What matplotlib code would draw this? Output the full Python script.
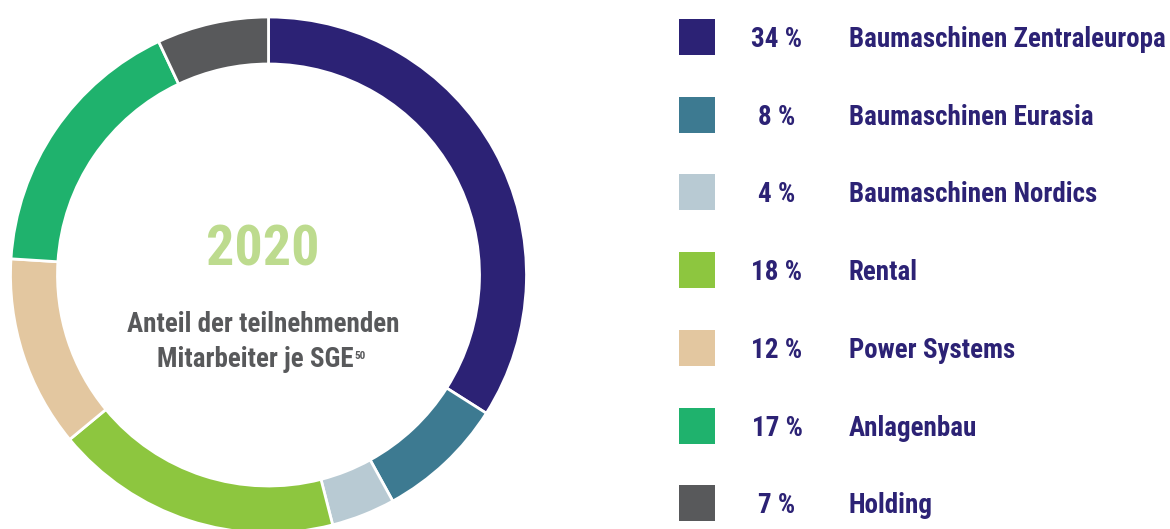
import matplotlib
matplotlib.use("Agg")
import matplotlib.pyplot as plt
from matplotlib import font_manager
from matplotlib.patches import Rectangle

# ---- data ----
categories = ["Baumaschinen Zentraleuropa", "Baumaschinen Eurasia", "Baumaschinen Nordics",
              "Rental", "Power Systems", "Anlagenbau", "Holding"]
shares = [34, 8, 4, 18, 12, 17, 7]
colors = ["#2c2275", "#3d7a91", "#b8cad3", "#8dc63f", "#e3c7a0", "#1fb26d", "#58595b"]
year_label = "2020"
center_lines = ["Anteil der teilnehmenden", "Mitarbeiter je SGE"]
footnote = "50"

# ---- font choice: a condensed bold sans ----
entries = font_manager.fontManager.ttflist
names = {f.name for f in entries}
FONT, STRETCH = "DejaVu Sans", "normal"
for cand in ["Roboto Condensed", "Archivo Narrow", "Fira Sans Condensed", "PT Sans Narrow",
             "Barlow Semi Condensed", "Asap Condensed", "IBM Plex Sans Condensed",
             "Encode Sans Condensed", "Pragati Narrow"]:
    if cand in names:
        FONT = cand
        break
else:
    for f in entries:
        if f.name == "Roboto" and str(f.stretch) in ("condensed", "semi-condensed", "75", "87"):
            FONT, STRETCH = "Roboto", "condensed"
            break
plt.rcParams["font.family"] = [FONT, "DejaVu Sans"]

W, H = 1170, 529
fig = plt.figure(figsize=(W / 100, H / 100), dpi=100)
ax = fig.add_axes([0, 0, 1, 1])

cx, cy, R, ring = 268.5, H - 275, 258, 47
ax.pie(shares, colors=colors, startangle=90, counterclock=False, radius=R, center=(cx, cy),
       wedgeprops=dict(width=ring, edgecolor="white", linewidth=2), frame=False)
ax.set_xlim(0, W)
ax.set_ylim(0, H)
ax.set_aspect("equal")
ax.axis("off")

renderer = fig.canvas.get_renderer()


def fit(t, width, lo, hi):
    """scale font size so that the text has the wanted pixel width"""
    w = t.get_window_extent(renderer).width
    fs = t.get_fontsize() * width / w
    t.set_fontsize(min(max(fs, lo), hi))
    return t


kw = dict(fontweight="bold", fontstretch=STRETCH)

# center text
fit(ax.text(263, H - 265, year_label, ha="center", va="baseline", fontsize=46,
            color="#bddb8e", **kw), 113, 30, 60)
fit(ax.text(263, H - 332, center_lines[0], ha="center", va="baseline", fontsize=17,
            color="#58595b", **kw), 272, 13, 22)
t2 = fit(ax.text(255, H - 367, center_lines[1], ha="center", va="baseline", fontsize=17,
                 color="#58595b", **kw), 196, 13, 22)
bb = t2.get_window_extent(renderer)
ax.text(bb.x1 + 1, H - 359, footnote, ha="left", va="baseline", fontsize=8,
        color="#58595b", **kw)

# legend
row0, step = H - 37, 77.7
lab_size = None
for i, (cat, s, c) in enumerate(zip(categories, shares, colors)):
    y = row0 - i * step
    ax.add_patch(Rectangle((679, y - 18), 36, 36, facecolor=c, edgecolor="none"))
    tp = ax.text(777, y - 10, f"{s} %", ha="center", va="baseline", fontsize=16,
                 color="#2c2275", **kw)
    tl = ax.text(849, y - 10, cat, ha="left", va="baseline", fontsize=16,
                 color="#2c2275", **kw)
    if i == 0:
        fit(tl, 316, 12, 20)
        lab_size = tl.get_fontsize()
        fit(tp, 51, 12, 20)
        pct_size = tp.get_fontsize()
    else:
        tl.set_fontsize(lab_size)
        tp.set_fontsize(pct_size)

fig.savefig("out.png", dpi=100)
